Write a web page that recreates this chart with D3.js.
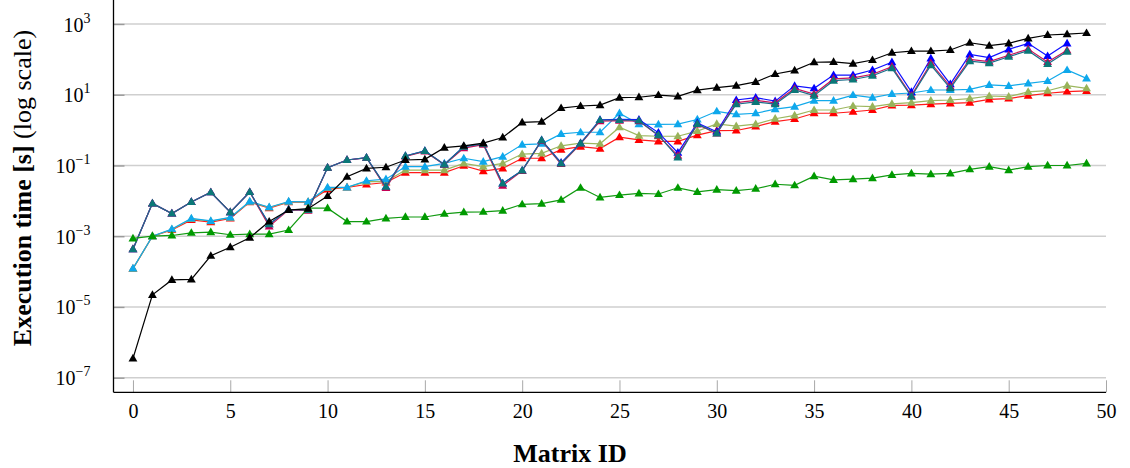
<!DOCTYPE html>
<html>
<head>
<meta charset="utf-8">
<script src="https://cdn.jsdelivr.net/npm/d3@7"></script>
<style>
  html, body { margin: 0; padding: 0; background: #fff; }
  svg { display: block; }
  text { font-family: "Liberation Serif", "Times New Roman", serif; fill: #000; }
</style>
</head>
<body>
<svg id="chart" width="1130" height="468"></svg>
<script>
// Matrix IDs 0..49
const matrixIds = d3.range(50);

// Execution times in seconds, one array per solver
const timesBlack = [3.5e-7, 2.2e-5, 5.8e-5, 6e-5, 2.8e-4, 4.9e-4, 9.1e-4, 2.6e-3, 5.5e-3, 6.0e-3,
  0.0137, 0.048, 0.083, 0.089, 0.143, 0.149, 0.32, 0.36, 0.43, 0.62,
  1.65, 1.74, 4.2, 4.8, 5.1, 8.3, 8.5, 9.8, 9.0, 13.5,
  15.8, 18, 23, 38.6, 49, 83, 85, 76, 96, 154,
  172, 172, 184, 295, 244, 284, 393, 489, 514, 556];

const timesGreen = [8.7e-4, 1.0e-3, 1.05e-3, 1.25e-3, 1.3e-3, 1.1e-3, 1.15e-3, 1.15e-3, 1.5e-3, 6.2e-3,
  6.2e-3, 2.6e-3, 2.6e-3, 3.2e-3, 3.5e-3, 3.5e-3, 4.3e-3, 4.8e-3, 4.9e-3, 5.3e-3,
  8.0e-3, 8.3e-3, 0.0107, 0.0234, 0.0125, 0.0146, 0.0163, 0.0156, 0.0234, 0.018,
  0.0208, 0.0195, 0.022, 0.0295, 0.0275, 0.05, 0.039, 0.041, 0.044, 0.054,
  0.06, 0.057, 0.06, 0.078, 0.093, 0.074, 0.093, 0.1, 0.1, 0.115];

const timesRed = [1.2e-4, 1.0e-3, 1.5e-3, 2.9e-3, 2.5e-3, 3.2e-3, 9.2e-3, 6.2e-3, 9.2e-3, 9.2e-3,
  0.021, 0.024, 0.029, 0.033, 0.063, 0.063, 0.063, 0.098, 0.069, 0.083,
  0.16, 0.16, 0.28, 0.34, 0.3, 0.63, 0.53, 0.48, 0.48, 0.72,
  0.97, 0.975, 1.26, 1.74, 2.06, 3.0, 3.0, 3.3, 3.7, 5.0,
  5.1, 5.4, 5.7, 6.0, 7.4, 7.8, 9.4, 11, 12.3, 12.8];

const timesOlive = [1.2e-4, 1.0e-3, 1.55e-3, 3.1e-3, 2.65e-3, 3.35e-3, 9.4e-3, 6.5e-3, 9.4e-3, 9.3e-3,
  0.023, 0.024, 0.035, 0.035, 0.074, 0.074, 0.074, 0.115, 0.093, 0.115,
  0.21, 0.22, 0.36, 0.43, 0.41, 1.2, 0.7, 0.67, 0.67, 0.94,
  1.5, 1.3, 1.48, 2.1, 2.6, 3.7, 3.7, 4.8, 4.6, 5.5,
  6.0, 6.8, 7.1, 7.8, 9.2, 8.8, 12, 13, 18, 15.2];

const timesSky = [1.23e-4, 1.0e-3, 1.6e-3, 3.2e-3, 2.7e-3, 3.4e-3, 9.6e-3, 6.6e-3, 9.6e-3, 9.4e-3,
  0.024, 0.024, 0.037, 0.041, 0.093, 0.093, 0.115, 0.16, 0.128, 0.178,
  0.39, 0.41, 0.78, 0.87, 0.87, 3.0, 1.48, 1.45, 1.48, 2.0,
  3.4, 2.8, 3.0, 3.9, 4.6, 6.8, 6.8, 9.8, 8.3, 10.5,
  11.2, 13.6, 13.6, 14.2, 19, 17.8, 21, 24.4, 50, 29];

const timesBlue = [4.3e-4, 8.5e-3, 4.4e-3, 9.3e-3, 0.0175, 4.8e-3, 0.0178, 2.2e-3, 5.7e-3, 5.5e-3,
  0.087, 0.143, 0.167, 0.025, 0.186, 0.257, 0.107, 0.34, 0.41, 0.031,
  0.072, 0.52, 0.12, 0.43, 1.95, 2.0, 1.97, 0.85, 0.23, 1.6,
  0.9, 7.1, 8.3, 6.6, 17.8, 15.2, 36, 36, 50, 83,
  12, 107, 20, 138, 112, 192, 284, 124, 284];

const timesCrimson = [4.3e-4, 8.5e-3, 4.4e-3, 9.3e-3, 0.0175, 4.8e-3, 0.0178, 1.9e-3, 5.6e-3, 5.3e-3,
  0.087, 0.143, 0.165, 0.023, 0.18, 0.25, 0.105, 0.31, 0.39, 0.027,
  0.07, 0.5, 0.11, 0.41, 1.8, 1.85, 1.8, 0.7, 0.19, 1.45,
  0.8, 6.0, 6.9, 5.9, 15, 10.5, 28, 30, 38, 62,
  9.5, 78, 17, 100, 86, 131, 195, 84, 180];

const timesTeal = [4.3e-4, 8.5e-3, 4.4e-3, 9.3e-3, 0.0175, 4.8e-3, 0.0178, 2.2e-3, 5.7e-3, 5.5e-3,
  0.087, 0.143, 0.167, 0.025, 0.186, 0.257, 0.107, 0.34, 0.41, 0.031,
  0.072, 0.52, 0.115, 0.42, 1.93, 1.93, 1.87, 0.72, 0.17, 1.49,
  0.81, 5.4, 6.3, 5.4, 13.6, 9.4, 25, 27, 34.5, 56,
  8.8, 69, 15.2, 89, 78, 119, 176, 74, 166];

// Axis ticks
const xTicks = [0, 5, 10, 15, 20, 25, 30, 35, 40, 45, 50];
const yTickExponents = [3, 1, -1, -3, -5, -7];

// Drawing order: later entries sit on top
const series = [
  { values: timesRed,     stroke: "#ff1a1a", fill: "#ff0000" },
  { values: timesOlive,   stroke: "#9cb75e", fill: "#98b35a" },
  { values: timesSky,     stroke: "#12a9ea", fill: "#0ea8ec" },
  { values: timesBlue,    stroke: "#1010ff", fill: "#0000ff" },
  { values: timesCrimson, stroke: "#c8145a", fill: "#c40055" },
  { values: timesTeal,    stroke: "#1a6f8a", fill: "#0b7878" },
  { values: timesGreen,   stroke: "#119a11", fill: "#009a00" },
  { values: timesBlack,   stroke: "#000000", fill: "#000000" }
];

const svg = d3.select("#chart");

const plotLeft = 113.5, plotRight = 1106, plotTop = 0, plotBottom = 392.3;

const x = d3.scaleLinear().domain([-1, 50]).range([plotLeft, plotRight]);
const y = d3.scaleLog().domain([1e-7, 1e3]).range([377.7, 24]);

// Horizontal grid at every second decade
const grid = svg.append("g");
grid.selectAll("line")
  .data(yTickExponents)
  .join("line")
  .attr("x1", plotLeft).attr("x2", plotRight)
  .attr("y1", d => y(Math.pow(10, d))).attr("y2", d => y(Math.pow(10, d)))
  .attr("stroke", "#cfcfcf").attr("stroke-width", 1.4);

// Y axis: inward ticks, 10^n labels
const yAxis = d3.axisLeft(y)
  .tickValues(yTickExponents.map(e => Math.pow(10, e)))
  .tickSizeInner(-11).tickSizeOuter(0).tickPadding(23)
  .tickFormat(() => "");
const gy = svg.append("g").attr("transform", `translate(${plotLeft},0)`).call(yAxis);
gy.select(".domain").remove();
gy.selectAll(".tick line").attr("stroke", "#9a9a9a").attr("stroke-width", 1.4);
gy.selectAll(".tick text").remove();
gy.selectAll(".tick").append("text")
  .attr("x", -23).attr("y", 7)
  .attr("text-anchor", "end")
  .style("font-size", "20px")
  .each(function (d) {
    const t = d3.select(this);
    const e = Math.round(Math.log10(d));
    t.append("tspan").text("10");
    t.append("tspan").attr("dy", -9).style("font-size", "14px")
      .text(e < 0 ? "\u2212" + (-e) : String(e));
  });

// X axis: inward ticks
const xAxis = d3.axisBottom(x)
  .tickValues(xTicks)
  .tickSizeInner(-12).tickSizeOuter(0).tickPadding(0)
  .tickFormat(() => "");
const gx = svg.append("g").attr("transform", `translate(0,${plotBottom})`).call(xAxis);
gx.select(".domain").remove();
gx.selectAll(".tick line").attr("stroke", "#a8a8a8").attr("stroke-width", 1);
gx.selectAll(".tick text").remove();
gx.selectAll(".tick").append("text")
  .attr("y", 26).attr("text-anchor", "middle")
  .style("font-size", "20px")
  .text(d => d);

// Axis lines (left and bottom)
svg.append("line").attr("x1", plotLeft).attr("x2", plotLeft)
  .attr("y1", plotTop).attr("y2", plotBottom)
  .attr("stroke", "#000").attr("stroke-width", 1.3);
svg.append("line").attr("x1", plotLeft).attr("x2", plotRight)
  .attr("y1", plotBottom).attr("y2", plotBottom)
  .attr("stroke", "#000").attr("stroke-width", 1.3);

// Series lines and triangle markers
const line = d3.line()
  .x((d, i) => x(matrixIds[i]))
  .y(d => y(d));

const tri = d3.symbol().type(d3.symbolTriangle).size(34);

series.forEach(s => {
  const g = svg.append("g");
  g.append("path")
    .attr("d", line(s.values))
    .attr("fill", "none")
    .attr("stroke", s.stroke)
    .attr("stroke-width", 1.2);
  g.selectAll("path.mk")
    .data(s.values)
    .join("path")
    .attr("class", "mk")
    .attr("d", tri)
    .attr("transform", (d, i) => `translate(${x(matrixIds[i])},${y(d) + 0.5})`)
    .attr("fill", s.fill);
});

// Axis titles
svg.append("text")
  .attr("transform", "translate(31,188) rotate(-90)")
  .attr("text-anchor", "middle")
  .style("font-size", "26px")
  .call(t => {
    t.append("tspan").style("font-weight", "bold").text("Execution time [s]");
    t.append("tspan").text(" (log scale)");
  });

svg.append("text")
  .attr("x", 570).attr("y", 462)
  .attr("text-anchor", "middle")
  .style("font-size", "26px").style("font-weight", "bold")
  .text("Matrix ID");
</script>
</body>
</html>
